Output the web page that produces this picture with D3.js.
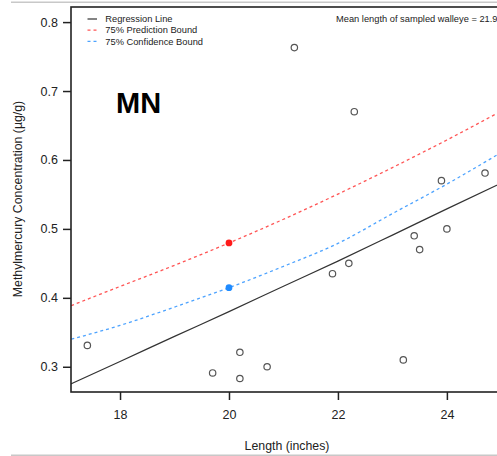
<!DOCTYPE html>
<html><head><meta charset="utf-8">
<script src="https://cdn.jsdelivr.net/npm/d3@7"></script>
<style>html,body{margin:0;padding:0;background:#fff;overflow:hidden}svg{display:block;font-family:"Liberation Sans",Arial,sans-serif}</style>
</head><body><svg id="c" width="497" height="456"></svg>
<script>
// Observed samples (Length in inches, MeHg µg/g)
const lengths = [17.4, 19.7, 20.2, 20.2, 20.7, 23.2, 21.9, 22.2, 23.4, 23.5, 24.0, 23.9, 24.7, 21.2, 22.3];
const mehg    = [0.331, 0.291, 0.321, 0.283, 0.300, 0.310, 0.435, 0.450, 0.490, 0.470, 0.500, 0.570, 0.581, 0.763, 0.670];
// Curves
const curveX       = [17, 18, 19, 20, 21, 22, 23, 24, 25];
const regression   = [0.2717, 0.3077, 0.3441, 0.3800, 0.4168, 0.4533, 0.4910, 0.5290, 0.5665];
const predBound    = [0.3855, 0.4165, 0.4472, 0.4796, 0.5140, 0.5505, 0.5890, 0.6290, 0.6710];
const confBound    = [0.3378, 0.3600, 0.3866, 0.4147, 0.4457, 0.4790, 0.5222, 0.5650, 0.6110];
// Highlighted estimates at length 20
const highlightX = 20;
const predAt20 = 0.4796;
const confAt20 = 0.4147;
const xTicks = [18, 20, 22, 24];
const yTicks = [0.3, 0.4, 0.5, 0.6, 0.7, 0.8];
const legendLabels = ["Regression Line", "75% Prediction Bound", "75% Confidence Bound"];
const meanText = "Mean length of sampled walleye = 21.9";
const panelLabel = "MN";

const svg = d3.select("#c");
const L = 71, R = 503, T = 7, B = 392;
const x = d3.scaleLinear().domain([17.1, 25.03]).range([L, R]);
const y = d3.scaleLinear().domain([0.2634, 0.8219]).range([B, T]);

const cRed = "#ff5555", cBlue = "#4da3ff";

// page separator lines
svg.append("line").attr("x1", 11).attr("x2", 497).attr("y1", 2.3).attr("y2", 2.3).attr("stroke", "#c8c8c8").attr("stroke-width", 1.5);
svg.append("line").attr("x1", 11).attr("x2", 497).attr("y1", 455.3).attr("y2", 455.3).attr("stroke", "#c8c8c8").attr("stroke-width", 1.5);

const clip = svg.append("clipPath").attr("id", "pc").append("rect").attr("x", L).attr("y", T).attr("width", R - L).attr("height", B - T);
const g = svg.append("g").attr("clip-path", "url(#pc)");

const line = d3.line().x(d => x(d[0])).y(d => y(d[1])).curve(d3.curveMonotoneX);
g.append("path").datum(curveX.map((v, i) => [v, predBound[i]])).attr("d", line)
  .attr("fill", "none").attr("stroke", cRed).attr("stroke-width", 1.3).attr("stroke-dasharray", "3,3");
g.append("path").datum(curveX.map((v, i) => [v, confBound[i]])).attr("d", line)
  .attr("fill", "none").attr("stroke", cBlue).attr("stroke-width", 1.3).attr("stroke-dasharray", "3,3");
g.append("path").datum(curveX.map((v, i) => [v, regression[i]])).attr("d", line)
  .attr("fill", "none").attr("stroke", "#333").attr("stroke-width", 1.2);

g.selectAll("circle.pt").data(lengths.map((v, i) => [v, mehg[i]])).enter().append("circle")
  .attr("class", "pt").attr("cx", d => x(d[0])).attr("cy", d => y(d[1])).attr("r", 3.2)
  .attr("fill", "none").attr("stroke", "#555").attr("stroke-width", 1.2);

g.append("circle").attr("cx", x(highlightX)).attr("cy", y(predAt20)).attr("r", 3.4).attr("fill", "#ff1a1a");
g.append("circle").attr("cx", x(highlightX)).attr("cy", y(confAt20)).attr("r", 3.4).attr("fill", "#1f8bff");

// box
svg.append("rect").attr("x", L).attr("y", T).attr("width", R - L).attr("height", B - T)
  .attr("fill", "none").attr("stroke", "#222").attr("stroke-width", 1.6);

// axes
const xAxis = svg.append("g").attr("transform", `translate(0,${B})`)
  .call(d3.axisBottom(x).tickValues(xTicks).tickSize(8).tickPadding(10).tickFormat(d3.format("d")));
const yAxis = svg.append("g").attr("transform", `translate(${L},0)`)
  .call(d3.axisLeft(y).tickValues(yTicks).tickSize(8).tickPadding(5).tickFormat(d3.format(".1f")));
[xAxis, yAxis].forEach(a => {
  a.select(".domain").remove();
  a.selectAll("line").attr("stroke", "#222").attr("stroke-width", 1.5);
  a.selectAll("text").attr("fill", "#222").style("font-size", "12.5px").style("font-family", '"Liberation Sans",Arial,sans-serif');
});

svg.append("text").attr("x", 287).attr("y", 450).attr("text-anchor", "middle")
  .style("font-size", "12.3px").attr("fill", "#222").text("Length (inches)");
svg.append("text").attr("transform", "translate(22,199) rotate(-90)").attr("text-anchor", "middle")
  .style("font-size", "12.3px").attr("fill", "#222").text("Methylmercury Concentration (µg/g)");

// legend
const lg = svg.append("g");
const legColors = ["#333", cRed, cBlue];
const legDash = [null, "3,3", "3,3"];
legendLabels.forEach((t, i) => {
  const yy = 19 + i * 11.2;
  lg.append("line").attr("x1", 87.5).attr("x2", 97).attr("y1", yy).attr("y2", yy)
    .attr("stroke", legColors[i]).attr("stroke-width", 1.2).attr("stroke-dasharray", legDash[i]);
  lg.append("text").attr("x", 105.3).attr("y", yy + 3.2).style("font-size", "9.3px").attr("fill", "#222").text(t);
});

svg.append("text").attr("x", 336).attr("y", 22.2).style("font-size", "9.3px").attr("fill", "#222").text(meanText);

svg.append("text").attr("x", 116).attr("y", 112.7).style("font-size", "29px").style("font-weight", "bold")
  .attr("fill", "#000").text(panelLabel);
</script></body></html>
